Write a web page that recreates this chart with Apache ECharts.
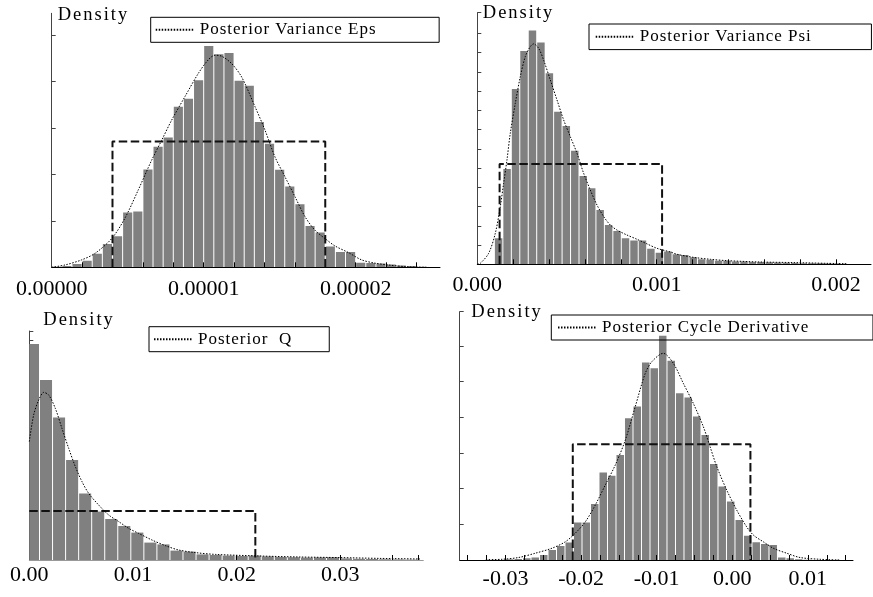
<!DOCTYPE html>
<html>
<head>
<meta charset="utf-8">
<script src="https://cdn.jsdelivr.net/npm/echarts@6.0.0/dist/echarts.min.js"></script>
<style>
  html, body { margin: 0; padding: 0; background: #fff; }
  #chart { width: 873px; height: 597px; }
</style>
</head>
<body>
<div id="chart"></div>
<script>
// ---- Posterior variance of eps ----
const epsBinStart = 0;
const epsBinWidth = 6.6667e-7;
const epsHist = [0.01, 0.03, 0.07, 0.14, 0.29, 0.50, 0.67, 1.18, 1.20, 2.11, 2.60, 2.80, 3.46, 3.63,
  4.03, 4.77, 4.59, 4.62, 4.02, 3.91, 3.13, 2.66, 2.10, 1.74, 1.36, 0.89, 0.75, 0.45, 0.33, 0.33,
  0.10, 0.09, 0.08, 0.06, 0.04, 0.03, 0.01];
const epsDensity = [[0, 0], [8.75e-7, 0.05], [1.97e-6, 0.16], [2.85e-6, 0.30], [3.95e-6, 0.62],
  [4.82e-6, 1.06], [5.70e-6, 1.67], [6.58e-6, 2.31], [7.24e-6, 2.74], [7.89e-6, 3.17], [8.77e-6, 3.68],
  [9.65e-6, 4.18], [1.030e-5, 4.47], [1.074e-5, 4.57], [1.118e-5, 4.55], [1.184e-5, 4.39], [1.25e-5, 4.10],
  [1.338e-5, 3.46], [1.403e-5, 2.96], [1.469e-5, 2.38], [1.535e-5, 1.95], [1.601e-5, 1.52], [1.667e-5, 1.09],
  [1.732e-5, 0.80], [1.798e-5, 0.62], [1.864e-5, 0.46], [1.951e-5, 0.32], [2.039e-5, 0.16], [2.127e-5, 0.09],
  [2.214e-5, 0.05], [2.346e-5, 0.01], [2.478e-5, 0]];
const epsPrior = [[4.0e-6, 0], [4.0e-6, 2.71], [1.8e-5, 2.71], [1.8e-5, 0]];
const epsTicks = [2e-6, 4e-6, 6e-6, 8e-6, 1e-5, 1.2e-5, 1.4e-5, 1.6e-5, 1.8e-5, 2e-5, 2.2e-5, 2.4e-5];
const epsLabels = [0, 1e-5, 2e-5];

// ---- Posterior variance of psi ----
const psiBinStart = 9.53e-5;
const psiBinWidth = 4.716e-5;
const psiHist = [1.35, 4.95, 9.11, 11.08, 12.14, 11.52, 9.92, 7.93, 7.19, 5.90, 4.59, 3.95, 2.82, 2.04,
  1.73, 1.35, 1.23, 1.23, 0.81, 0.60, 0.66, 0.52, 0.48, 0.36, 0.26, 0.23, 0.19, 0.19, 0.15, 0.14,
  0.12, 0.12, 0.10, 0.09, 0.08, 0.07, 0.06, 0.05, 0.05, 0.04, 0.03, 0.02];
const psiDensity = [[0, 0], [1.67e-5, 0.05], [6.32e-5, 0.57], [1.003e-4, 1.61], [1.282e-4, 3.00],
  [1.468e-4, 4.21], [1.654e-4, 5.42], [1.839e-4, 6.81], [2.118e-4, 8.36], [2.397e-4, 9.75], [2.676e-4, 10.79],
  [2.954e-4, 11.31], [3.14e-4, 11.45], [3.419e-4, 11.22], [3.697e-4, 10.61], [4.069e-4, 9.58], [4.441e-4, 8.54],
  [4.813e-4, 7.50], [5.184e-4, 6.63], [5.556e-4, 5.77], [5.927e-4, 4.73], [6.299e-4, 3.86], [6.671e-4, 3.08],
  [7.042e-4, 2.48], [7.414e-4, 2.04], [7.786e-4, 1.78], [8.344e-4, 1.52], [8.902e-4, 1.30], [9.459e-4, 1.06],
  [1.0017e-3, 0.83], [1.0758e-3, 0.64], [1.113e-3, 0.52], [1.206e-3, 0.36], [1.299e-3, 0.26], [1.392e-3, 0.19],
  [1.577e-3, 0.12], [1.763e-3, 0.09], [1.949e-3, 0.05], [2.061e-3, 0.03]];
const psiPrior = [[1.243e-4, 0], [1.243e-4, 5.21], [1.03e-3, 5.21], [1.03e-3, 0]];
const psiTicks = [2e-4, 4e-4, 6e-4, 8e-4, 1e-3, 1.2e-3, 1.4e-3, 1.6e-3, 1.8e-3, 2e-3];
const psiLabels = [0, 0.001, 0.002];

// ---- Posterior Q ----
const qBinStart = -2.74e-4;
const qBinWidth = 1.258e-3;
const qHist = [10.8, 9.0, 7.12, 5.0, 3.33, 2.42, 2.05, 1.70, 1.37, 0.87, 0.78, 0.47, 0.42, 0.28, 0.25,
  0.22, 0.20, 0.22, 0.18, 0.15, 0.14, 0.12, 0.13, 0.14, 0.08, 0.06, 0.05, 0.04, 0.03, 0.02];
const qDensity = [[0, 5.92], [4.2e-4, 7.25], [9.1e-4, 8.0], [1.39e-3, 8.38], [1.87e-3, 8.25], [2.51e-3, 7.58],
  [3.15e-3, 6.58], [3.80e-3, 5.58], [4.44e-3, 4.67], [5.08e-3, 3.92], [5.73e-3, 3.33], [6.69e-3, 2.75],
  [7.66e-3, 2.25], [8.62e-3, 1.92], [9.59e-3, 1.58], [1.055e-2, 1.33], [1.183e-2, 1.0], [1.311e-2, 0.72],
  [1.441e-2, 0.5], [1.601e-2, 0.37], [1.794e-2, 0.28], [2.225e-2, 0.2], [2.61e-2, 0.15], [2.996e-2, 0.12],
  [3.382e-2, 0.08], [3.768e-2, 0.05]];
const qPrior = [[0, 2.45], [0.0218, 2.45], [0.0218, 0]];
const qTicks = [0.02, 0.03, 0.035, 0.0375];
const qLabels = [0, 0.01, 0.02, 0.03];

// ---- Posterior cycle derivative ----
const cycBinStart = -0.0300;
const cycBinWidth = 1.1243e-3;
const cycHist = [0.02, 0.03, 0.05, 0.07, 0.14, 0.28, 0.39, 0.49, 1.05, 1.05, 1.57, 2.45, 2.36, 2.94,
  3.97, 4.30, 5.53, 5.37, 6.28, 5.58, 4.67, 4.55, 4.02, 3.50, 2.69, 2.06, 1.64, 1.12, 0.68, 0.50,
  0.45, 0.42, 0.07, 0.05, 0.02, 0.01];
const cycDensity = [[-0.0326, 0.01], [-0.03046, 0.02], [-0.02825, 0.07], [-0.02606, 0.19], [-0.02385, 0.33],
  [-0.02209, 0.51], [-0.02077, 0.75], [-0.01944, 1.07], [-0.01812, 1.54], [-0.0168, 2.10], [-0.01548, 2.66],
  [-0.01415, 3.36], [-0.01283, 4.30], [-0.01151, 5.23], [-0.01062, 5.56], [-0.00913, 5.79], [-0.0078, 5.51],
  [-0.00648, 4.95], [-0.00516, 4.39], [-0.00384, 3.74], [-0.00295, 3.18], [-0.00206, 2.62], [-0.00074, 1.96],
  [0.00058, 1.40], [0.0019, 0.93], [0.00278, 0.70], [0.0041, 0.51], [0.00542, 0.33], [0.0072, 0.19],
  [0.00896, 0.07], [0.0116, 0.02], [0.01425, 0]];
const cycPrior = [[-0.0211, 0], [-0.0211, 3.24], [0.0024, 3.24], [0.0024, 0]];
const cycTicks = [-0.035, -0.0325, -0.03, -0.0275, -0.025, -0.0225, -0.02, -0.0175, -0.015, -0.0125, -0.01,
  -0.0075, -0.005, -0.0025, 0, 0.0025, 0.005, 0.0075, 0.01, 0.0125, 0.015];
const cycLabels = [-0.03, -0.02, -0.01, 0, 0.01];

const SERIF = 'Liberation Serif';

// The legend captions (17px) and the "Density" titles (18.5px) are set
// with extra tracking; all other text is drawn with normal spacing.
(function addCaptionTracking() {
  const proto = CanvasRenderingContext2D.prototype;
  if (!('letterSpacing' in proto)) return;
  const baseFillText = proto.fillText;
  proto.fillText = function (text, x, y, maxWidth) {
    const f = this.font;
    this.letterSpacing = f.indexOf('17px') >= 0 ? '1px' : (f.indexOf('18.5px') >= 0 ? '2px' : '0px');
    return maxWidth === undefined ? baseFillText.call(this, text, x, y) : baseFillText.call(this, text, x, y, maxWidth);
  };
})();

// histogram table: [binLow, binHigh, height]
function toBins(start, width, heights) {
  return heights.map((h, i) => [start + i * width, start + (i + 1) * width, h]);
}

const panels = [
  {
    name: 'Posterior Variance Eps', bins: toBins(epsBinStart, epsBinWidth, epsHist),
    density: epsDensity, prior: epsPrior, ticks: epsTicks, labels: epsLabels, digits: 5,
    grid: { left: 51.7, top: 13.3, width: 388.3, height: 254 },
    xMin: 0, xMax: 2.555e-5, yMax: 5.474, yTicks: [1, 2, 3, 4, 5],
    labelMargin: 11, xLine: '#000', nameGap: -2, namePad: 6,
    legend: { left: 150.7, top: 17.3, padding: [4, 84.6, 4, 4] }
  },
  {
    name: 'Posterior Variance Psi', bins: toBins(psiBinStart, psiBinWidth, psiHist),
    density: psiDensity, prior: psiPrior, ticks: psiTicks, labels: psiLabels, digits: 3,
    grid: { left: 477.3, top: 12.7, width: 393.7, height: 251.6 },
    xMin: 0, xMax: 0.0021945, yMax: 13.07, yTicks: [1, 2, 3, 4, 5, 6, 7, 8, 9, 10, 11, 12, 13.07],
    labelMargin: 10, xLine: '#000', nameGap: 0, namePad: 5.5,
    legend: { left: 589, top: 24, padding: [4.3, 81.6, 4.3, 5.7] }
  },
  {
    name: 'Posterior  Q', bins: toBins(qBinStart, qBinWidth, qHist),
    density: qDensity, prior: qPrior, ticks: qTicks, labels: qLabels, digits: 2,
    grid: { left: 29.3, top: 331, width: 394, height: 229 },
    xMin: 0, xMax: 0.038, yMax: 11.45, yTicks: [1, 2, 3, 4, 5, 6, 7, 8, 9, 10, 11, 11.45],
    labelMargin: 4.5, xLine: '#999', nameGap: 11, namePad: 14,
    legend: { left: 149, top: 326.7, padding: [4, 49.1, 4, 4] }
  },
  {
    name: 'Posterior Cycle Derivative', bins: toBins(cycBinStart, cycBinWidth, cycHist),
    density: cycDensity, prior: cycPrior, ticks: cycTicks, labels: cycLabels, digits: 2,
    grid: { left: 459.7, top: 311.7, width: 393.3, height: 248.3 },
    xMin: -0.03606, xMax: 0.01597, yMax: 6.955, yTicks: [1, 2, 3, 4, 5, 6, 6.955],
    labelMargin: 8, xLine: '#000', nameGap: 0, namePad: 11.6,
    legend: { left: 551.3, top: 315, padding: [4, 89.7, 4, 5.7] }
  }
];

// gray histogram bar with a thin white gap between neighbours
function renderBin(params, api) {
  const a = api.coord([api.value(0), api.value(2)]);
  const b = api.coord([api.value(1), 0]);
  const cs = params.coordSys;
  const rect = echarts.graphic.clipRectByRect(
    { x: a[0] + 0.5, y: a[1], width: b[0] - a[0] - 1, height: b[1] - a[1] },
    { x: cs.x, y: cs.y, width: cs.width, height: cs.height }
  );
  return rect && { type: 'rect', shape: rect, style: { fill: '#808080' } };
}

const option = {
  animation: false,
  backgroundColor: '#fff',
  textStyle: { fontFamily: SERIF, color: '#000' },
  grid: panels.map(p => Object.assign({ containLabel: false }, p.grid)),
  xAxis: panels.map((p, i) => ({
    gridIndex: i, type: 'value', min: p.xMin, max: p.xMax, z: 3,
    axisLine: { show: true, onZero: false, lineStyle: { color: p.xLine, width: 1 } },
    axisTick: { show: true, inside: true, length: 5, customValues: p.ticks, lineStyle: { color: '#000', width: 1 } },
    axisLabel: {
      show: true, customValues: p.labels, margin: p.labelMargin,
      formatter: v => v.toFixed(p.digits),
      fontFamily: SERIF, fontSize: 22, color: '#000'
    },
    splitLine: { show: false }
  })),
  yAxis: panels.map((p, i) => ({
    gridIndex: i, type: 'value', min: 0, max: p.yMax,
    name: 'Density', nameLocation: 'end', nameGap: p.nameGap,
    nameTextStyle: { fontFamily: SERIF, fontSize: 18.5, color: '#000', align: 'left', verticalAlign: 'middle', padding: [0, 0, 0, p.namePad] },
    axisLine: { show: true, onZero: false, lineStyle: { color: '#444', width: 1 } },
    axisTick: { show: true, inside: true, length: 4, customValues: p.yTicks, lineStyle: { color: '#444', width: 1 } },
    axisLabel: { show: false },
    splitLine: { show: false }
  })),
  legend: panels.map(p => ({
    data: [p.name], left: p.legend.left, top: p.legend.top, padding: p.legend.padding,
    orient: 'horizontal', itemWidth: 39, itemHeight: 14, itemGap: 0,
    borderColor: '#000', borderWidth: 1, selectedMode: false,
    textStyle: { fontFamily: SERIF, fontSize: 17, color: '#000' },
    itemStyle: { opacity: 0 }
  })),
  series: panels.flatMap((p, i) => [
    {
      type: 'custom', name: p.name + ' histogram', xAxisIndex: i, yAxisIndex: i,
      data: p.bins, renderItem: renderBin, encode: { x: [0, 1], y: 2 }, clip: true, silent: true, z: 2
    },
    {
      type: 'line', name: p.name + ' prior', xAxisIndex: i, yAxisIndex: i, data: p.prior,
      symbol: 'none', silent: true, z: 4,
      lineStyle: { color: '#111', width: 2, type: [8.5, 3.5] }
    },
    {
      type: 'line', name: p.name, xAxisIndex: i, yAxisIndex: i, data: p.density,
      symbol: 'none', smooth: 0.3, silent: true, z: 5,
      lineStyle: { color: '#000', width: 1, type: [1.5, 1.5] }
    }
  ])
};

const chart = echarts.init(document.getElementById('chart'), null, { renderer: 'canvas', width: 873, height: 597 });
chart.setOption(option);
</script>
</body>
</html>
